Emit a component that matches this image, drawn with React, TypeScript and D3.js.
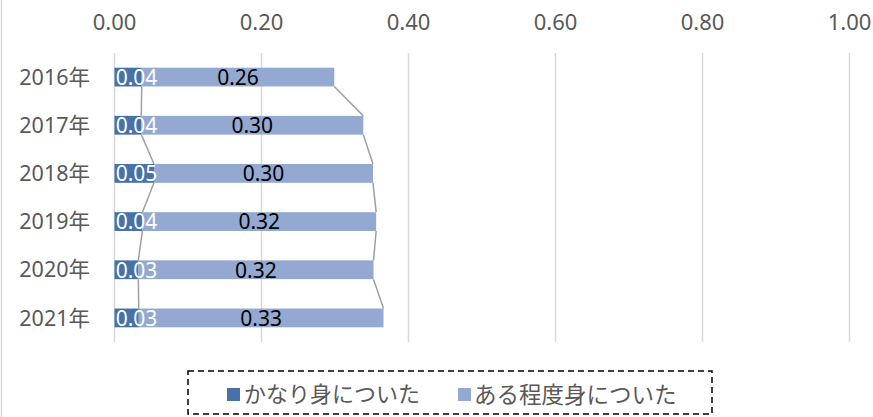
import React from "react";
import * as d3 from "d3";

const categories = ["2016年", "2017年", "2018年", "2019年", "2020年", "2021年"];
const seriesNames = ["かなり身についた", "ある程度身についた"];
const strongly = [0.037, 0.0365, 0.0537, 0.038, 0.0324, 0.033];
const somewhat = [0.262, 0.302, 0.298, 0.318, 0.32, 0.333];
const xTicks = [0, 0.2, 0.4, 0.6, 0.8, 1.0];
const colors = ["#4672a8", "#93a9d1"];

const W = 873;
const H = 417;
const FONT = "'Noto Sans', 'Noto Sans CJK JP', sans-serif";

export default function App() {
  const x = d3.scaleLinear().domain([0, 1]).range([114.5, 849.5]);
  const y = d3.scaleBand<string>().domain(categories).range([53, 342]).paddingInner(0.61).paddingOuter(0.305);
  const bh = y.bandwidth();
  const fmt = d3.format(".2f");
  const totals = strongly.map((d, i) => d + somewhat[i]);
  const labelW = 42;

  const seriesLine = (vals: number[]) =>
    vals.slice(0, -1).map((v, i) => (
      <line
        key={i}
        x1={x(v)}
        y1={(y(categories[i]) as number) + bh}
        x2={x(vals[i + 1])}
        y2={y(categories[i + 1]) as number}
        stroke="#a0a0a0"
        strokeWidth={1.5}
      />
    ));

  return (
    <svg width={W} height={H} style={{ position: "absolute", left: 0, top: 0 }} fontFamily={FONT}>
      <rect x={0} y={0} width={W} height={H} fill="#fff" />
      <line x1={1.5} x2={1.5} y1={0} y2={H} stroke="#d9d9d9" strokeWidth={1.5} />
      {xTicks.map((t) => (
        <g key={t}>
          <line x1={x(t)} x2={x(t)} y1={53} y2={342} stroke="#d9d9d9" strokeWidth={1.5} />
          <text x={x(t)} y={30} textAnchor="middle" fontSize={22} fill="#595959">
            {fmt(t)}
          </text>
        </g>
      ))}
      {categories.map((c) => (
        <text key={c} x={90} y={(y(c) as number) + bh / 2} dy="0.36em" textAnchor="end" fontSize={21.5} fill="#595959">
          {c}
        </text>
      ))}
      {seriesLine(strongly)}
      {seriesLine(totals)}
      {categories.map((c, i) => {
        const y0 = y(c) as number;
        const a0 = x(0);
        const a1 = x(strongly[i]);
        const b1 = x(totals[i]);
        const darkCenter = Math.max((a0 + a1) / 2, a0 + labelW / 2 + 1);
        return (
          <g key={c}>
            <rect x={a0} y={y0} width={a1 - a0} height={bh} fill={colors[0]} />
            <rect x={a1} y={y0} width={b1 - a1} height={bh} fill={colors[1]} />
            <text x={(a1 + b1) / 2} y={y0 + bh / 2} dy="0.37em" textAnchor="middle" fontSize={21} fill="#000">
              {fmt(somewhat[i])}
            </text>
            <text x={darkCenter} y={y0 + bh / 2} dy="0.37em" textAnchor="middle" fontSize={21} fill="#fff">
              {fmt(strongly[i])}
            </text>
          </g>
        );
      })}
      <rect x={188} y={371} width={524} height={43} fill="none" stroke="#000" strokeWidth={1.5} strokeDasharray="6,4" />
      <rect x={227} y={388} width={13} height={13} fill={colors[0]} />
      <text x={244} y={394.5} dy="0.36em" fontSize={22} fill="#595959">
        {seriesNames[0]}
      </text>
      <rect x={458} y={388} width={13} height={13} fill={colors[1]} />
      <text x={474} y={394.5} dy="0.36em" fontSize={22.5} fill="#595959">
        {seriesNames[1]}
      </text>
    </svg>
  );
}
